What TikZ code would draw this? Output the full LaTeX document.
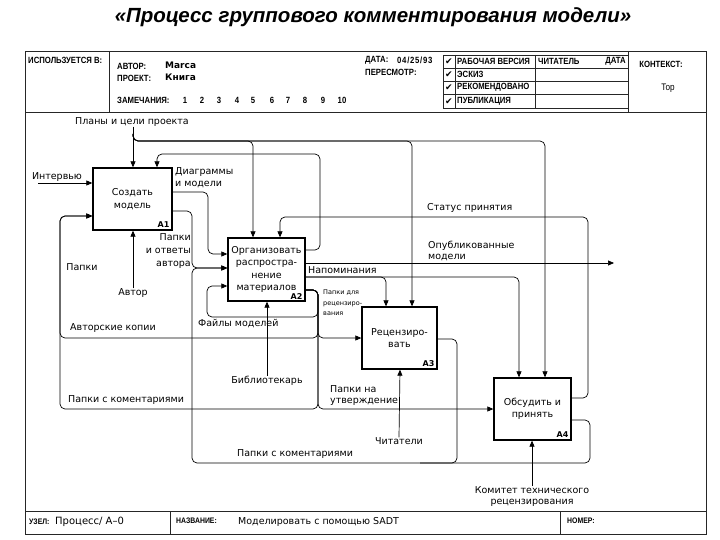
\documentclass[tikz,border=0pt]{standalone}
\usepackage{fontspec}
\setmainfont{DejaVu Sans}
\newfontfamily\titlefont{Liberation Sans}
\newfontfamily\hdrfont[FakeStretch=0.86]{Liberation Sans}
\newfontfamily\symfont{DejaVu Sans}
\usetikzlibrary{arrows.meta}
\begin{document}
\begin{tikzpicture}[x=1pt,y=-1pt,
  box/.style={draw,line width=1.3pt,inner sep=0pt,align=center,font=\fontsize{9.5}{12.5}\selectfont},
  lbl/.style={inner sep=0pt,align=left,font=\fontsize{9.5}{11.5}\selectfont},
  smalllbl/.style={inner sep=0pt,align=left,font=\fontsize{6.5}{10.5}\selectfont},
  hdr/.style={inner sep=0pt,anchor=west,font=\hdrfont\bfseries\fontsize{9}{10}\selectfont},
  alab/.style={inner sep=0pt,anchor=south east,font=\bfseries\fontsize{8}{9}\selectfont},
  cn/.style={line width=0.7pt,rounded corners=5pt},
  arr/.style={cn,-{Triangle[length=6pt,width=5pt]}},
  frame/.style={line width=0.9pt,draw=black!85}]
\useasboundingbox (0,0) rectangle (720,540);

% title
\node[font=\titlefont\bfseries\itshape\fontsize{20.5}{24}\selectfont] (title) at (373,17) {«Процесс группового комментирования модели»};

% frame and header
\draw[frame] (25,51) rectangle (706,534);
\draw[frame] (25,112) -- (706,112);
\draw[frame] (109,51) -- (109,112);
\draw[frame] (628,51) -- (628,112);
\draw[frame] (443,55) rectangle (628,108);
\draw[frame] (443,68) -- (628,68) (443,81) -- (628,81) (443,94.5) -- (628,94.5);
\draw[frame] (455,55) -- (455,108) (535,55) -- (535,108);
\node[hdr] (usedin) at (28,60) {ИСПОЛЬЗУЕТСЯ В:};
\node[hdr] (author) at (117,66) {АВТОР:};
\node[lbl,anchor=west,font=\bfseries\fontsize{9}{11}\selectfont] (authorv) at (165,65) {Marca};
\node[hdr] (project) at (117,78) {ПРОЕКТ:};
\node[lbl,anchor=west,font=\bfseries\fontsize{9}{11}\selectfont] (projectv) at (165,77) {Книга};
\node[hdr] (notes) at (117,100) {ЗАМЕЧАНИЯ:};
\foreach \n/\x in {1/185,2/202,3/219,4/237,5/253,6/272,7/288,8/305,9/323,10/342}
  \node[hdr,anchor=center] (num\n) at (\x,100) {\n};
\node[hdr] (date) at (365,60) {ДАТА:};
\node[hdr,font=\hdrfont\bfseries\fontsize{9}{10}\selectfont\addfontfeature{LetterSpace=8}] (datev) at (397,60) {04/25/93};
\node[hdr] (rev) at (365,72) {ПЕРЕСМОТР:};
\foreach \y/\i in {61.5/1,74.5/2,87.75/3,101.25/4}
  \node[inner sep=0pt,font=\symfont\fontsize{9}{9}\selectfont] (chk\i) at (449,\y) {✔};
\node[hdr] (st1) at (457,61.5) {РАБОЧАЯ ВЕРСИЯ};
\node[hdr] (st2) at (457,74.5) {ЭСКИЗ};
\node[hdr] (st3) at (457,87.75) {РЕКОМЕНДОВАНО};
\node[hdr] (st4) at (457,101.25) {ПУБЛИКАЦИЯ};
\node[hdr] (reader) at (538,61.5) {ЧИТАТЕЛЬ};
\node[hdr,anchor=east] (rdate) at (626,61.5) {ДАТА};
\node[hdr,anchor=center] (context) at (661,64) {КОНТЕКСТ:};
\node[hdr,anchor=center,font=\hdrfont\fontsize{9.5}{10}\selectfont] (top) at (668,88) {Top};

% footer
\draw[frame] (25,511) -- (706,511);
\draw[frame] (170,511) -- (170,534) (560,511) -- (560,534);
\node[hdr,font=\hdrfont\bfseries\fontsize{8}{10}\selectfont] (node) at (29,521.5) {УЗЕЛ:};
\node[lbl,anchor=west,font=\fontsize{10}{11}\selectfont] (nodev) at (55,522) {Процесс/ A–0};
\node[hdr,font=\hdrfont\bfseries\fontsize{8}{10}\selectfont] (name) at (176,520.5) {НАЗВАНИЕ:};
\node[lbl,anchor=west,font=\fontsize{9.5}{11}\selectfont] (namev) at (238,522) {Моделировать с помощью SADT};
\node[hdr,font=\hdrfont\bfseries\fontsize{8}{10}\selectfont] (number) at (567,520.5) {НОМЕР:};

% activity boxes
\node[box,minimum width=79pt,minimum height=62pt] (A1) at (132.5,199) {Создать\\модель};
\node[box,minimum width=77pt,minimum height=63pt] (A2) at (266.5,269.5) {Организовать\\распростра-\\нение\\материалов};
\node[box,minimum width=75pt,minimum height=62pt] (A3) at (399.5,338) {Рецензиро-\\вать};
\node[box,minimum width=77pt,minimum height=62pt] (A4) at (532.5,409) {Обсудить и\\принять};
\node[alab] (a1l) at ([shift={(-3,-3)}]A1.south east) {A1};
\node[alab] (a2l) at ([shift={(-3,-2)}]A2.south east) {A2};
\node[alab] (a3l) at ([shift={(-3,-3)}]A3.south east) {A3};
\node[alab] (a4l) at ([shift={(-3,-3)}]A4.south east) {A4};

% labels
\node[lbl,anchor=center] (plansL) at (132,122) {Планы и цели проекта};
\node[lbl,anchor=center] (intL) at (57,177) {Интервью};
\node[lbl,anchor=west] (diagL) at (175,177.5) {Диаграммы\\и модели};
\node[lbl,anchor=east,align=right,font=\fontsize{9.5}{13}\selectfont] (otvL) at (191,251) {Папки\\и ответы\\автора};
\node[lbl,anchor=center] (papkiL) at (82,267) {Папки};
\node[lbl,anchor=center] (autorL) at (133,293) {Автор};
\node[lbl,anchor=west] (kopL) at (70,328) {Авторские копии};
\node[lbl,anchor=west] (komUpL) at (68,400) {Папки с коментариями};
\node[lbl,anchor=west] (filesL) at (198,324) {Файлы моделей};
\node[lbl,anchor=center] (libL) at (267,381) {Библиотекарь};
\node[lbl,anchor=west] (komLowL) at (237,454) {Папки с коментариями};
\node[lbl,anchor=west] (utvL) at (330,395.5) {Папки на\\утверждение};
\node[lbl,anchor=center] (readL) at (399,441) {Читатели};
\node[lbl,anchor=center,align=center] (comL) at (532,496.5) {Комитет технического\\рецензирования};
\node[lbl,anchor=west] (statusL) at (427,208) {Статус принятия};
\node[lbl,anchor=west] (pubL) at (428,251) {Опубликованные\\модели};
\node[lbl,anchor=west] (napL) at (308,270) {Напоминания};
\node[smalllbl,anchor=west] (recL) at (323,303) {Папки для\\рецензиро-\\вания};

% connectors
\coordinate (intIn) at (38,183);
\coordinate (pubEnd) at (614,263);
\draw[arr] (plansL.south -| 133,0) -- (A1.north -| 133,0);
\draw[arr] (133,134) |- (253,141) -- (A2.north -| 253,0);
\draw[arr] (133,134) |- (412,141) -- (A3.north -| 412,0);
\draw[arr] (133,134) |- (545,141) -- (A4.north -| 545,0);
\draw[arr] (A2.east |- 0,250) -| (320,154) -| (A1.north -| 157,0);
\draw[arr] (A4.east |- 0,398) -| (588,217) -| (A2.north -| 280,0);
\draw[arr] (intIn) -- (A1.west |- 0,183);
\draw[arr] (A1.east |- 0,192) -| (208,254) -- (A2.west |- 0,254);
\draw[arr] (A1.east |- 0,211) -| (192,268) -- (A2.west |- 0,268);
\draw[arr] (A4.east |- 0,420) -| (590,463) -| (192,268) -- (A2.west |- 0,268);
\draw[cn] (A3.east |- 0,339) -| (457,463) -- (420,463);
\draw[arr] (autorL.north) -- (A1.south -| 133,0);
\draw[arr] (A2.east |- 0,263) -- (pubEnd);
\draw[arr] (A2.east |- 0,277) -| (A3.north -| 386,0);
\draw[arr] (A2.east |- 0,277) -| (A4.north -| 519,0);
\draw[arr] (A2.east |- 0,290) -| (318,338) -- (A3.west |- 0,338);
\draw[arr] (A2.east |- 0,290) -| (318,317) -| (207,286) -- (A2.west |- 0,286);
\draw[arr] (A2.east |- 0,290) -| (318,338) -| (60,216) -- (A1.west |- 0,216);
\draw[arr] (A2.east |- 0,290) -| (318,409) -| (60,216) -- (A1.west |- 0,216);
\draw[arr] (A2.east |- 0,290) -| (318,409) -- (A4.west |- 0,409);
\draw[arr] (libL.north) -- (A2.south -| 267,0);
\draw[arr] (readL.north) -- (A3.south -| 400,0);
\draw[arr] (comL.north) -- (A4.south -| 532,0);
\end{tikzpicture}
\end{document}
